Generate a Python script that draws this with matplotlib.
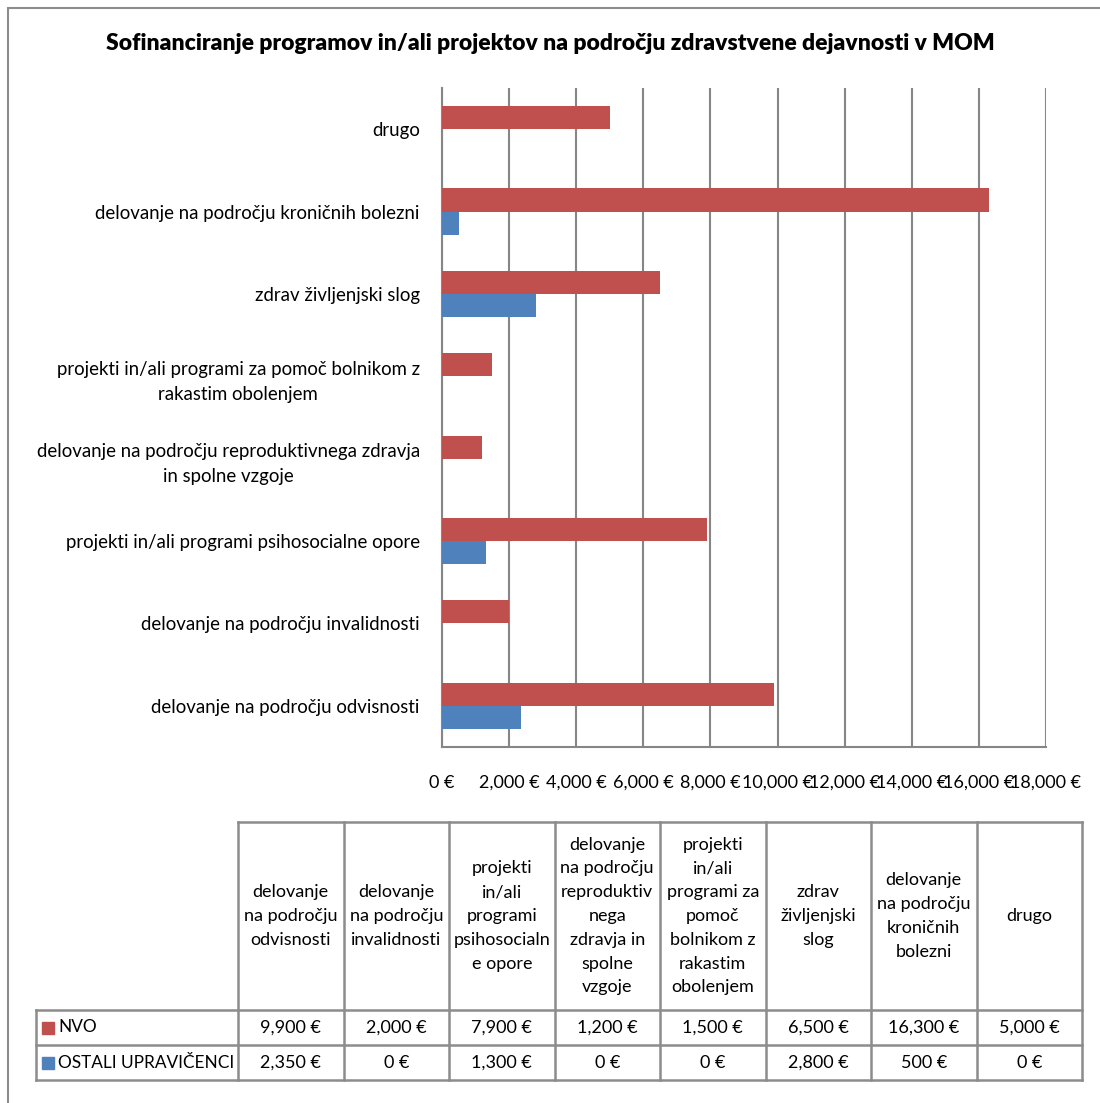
import numpy as np
import matplotlib
matplotlib.use('Agg')
from matplotlib import pyplot as plt
from matplotlib.patches import Rectangle

plt.rcParams['font.family'] = ['Lato', 'DejaVu Sans']

# data (bottom to top on the chart, left to right in the table)
categories = ['delovanje na področju odvisnosti',
              'delovanje na področju invalidnosti',
              'projekti in/ali programi psihosocialne opore',
              'delovanje na področju reproduktivnega zdravja\nin spolne vzgoje',
              'projekti in/ali programi za pomoč bolnikom z\nrakastim obolenjem',
              'zdrav življenjski slog',
              'delovanje na področju kroničnih bolezni',
              'drugo']
table_headers = ['delovanje\nna področju\nodvisnosti',
                 'delovanje\nna področju\ninvalidnosti',
                 'projekti\nin/ali\nprogrami\npsihosocialn\ne opore',
                 'delovanje\nna področju\nreproduktiv\nnega\nzdravja in\nspolne\nvzgoje',
                 'projekti\nin/ali\nprogrami za\npomoč\nbolnikom z\nrakastim\nobolenjem',
                 'zdrav\nživljenjski\nslog',
                 'delovanje\nna področju\nkroničnih\nbolezni',
                 'drugo']
nvo = [9900, 2000, 7900, 1200, 1500, 6500, 16300, 5000]
ostali = [2350, 0, 1300, 0, 0, 2800, 500, 0]
series_names = ['NVO', 'OSTALI UPRAVIČENCI']
xticks = np.arange(0, 18001, 2000)

red = '#C0504D'
blue = '#4F81BD'
grid_col = '#868686'
W, H = 1100, 1103

fig = plt.figure(figsize=(11, 11.03), dpi=100)

# outer chart border
fig.patches.append(Rectangle((8 / W, -0.01), 1.1, 1 - 8 / H + 0.01, transform=fig.transFigure,
                             fill=False, edgecolor='#8c8c8c', linewidth=1.5))

fig.text(0.5, 1 - 43 / H, 'Sofinanciranje programov in/ali projektov na področju zdravstvene dejavnosti v MOM',
         ha='center', va='center', fontsize=16.5, fontweight='heavy')

ax = fig.add_axes([442 / W, 1 - 747 / H, (1046 - 442) / W, (747 - 88) / H])
y = np.arange(len(categories))
h = 0.28
ax.barh(y + h / 2, nvo, height=h, color=red, zorder=3)
ax.barh(y - h / 2, ostali, height=h, color=blue, zorder=3)
ax.set_xlim(0, 18000)
ax.set_ylim(-0.5, len(categories) - 0.5)
ax.set_xticks(xticks)
ax.set_xticklabels([f'{v:,} €' for v in xticks])
ax.set_yticks(y)
ax.set_yticklabels(categories, multialignment='center', linespacing=1.55)
ax.tick_params(axis='x', length=0, pad=20, labelsize=13)
ax.tick_params(axis='y', length=0, pad=16, labelsize=13.4)
ax.grid(axis='x', color=grid_col, linewidth=1.5, zorder=0)
for s in ['top', 'right']:
    ax.spines[s].set_visible(False)
for s in ['left', 'bottom']:
    ax.spines[s].set_color(grid_col)
    ax.spines[s].set_linewidth(1.5)

# data table drawn in pixel space
tab = fig.add_axes([0, 0, 1, 1], zorder=5)
tab.set_xlim(0, W)
tab.set_ylim(H, 0)
tab.axis('off')
tab.patch.set_alpha(0)

col_x = np.linspace(238, 1082, len(table_headers) + 1)
head_top, row1, row2, bottom = 822, 1010, 1045, 1080
lc = '#8c8c8c'
lw = 1.8
for xx in col_x:
    tab.plot([xx, xx], [head_top, bottom], color=lc, lw=lw)
tab.plot([36, 36], [row1, bottom], color=lc, lw=lw)
tab.plot([238, 1082], [head_top, head_top], color=lc, lw=lw)
for yy in [row1, row2, bottom]:
    tab.plot([36, 1082], [yy, yy], color=lc, lw=lw)

for i, txt in enumerate(table_headers):
    cx = (col_x[i] + col_x[i + 1]) / 2
    tab.text(cx, (head_top + row1) / 2, txt, ha='center', va='center', fontsize=13,
             linespacing=1.6)

for r, (vals, name, col) in enumerate(zip([nvo, ostali], series_names, [red, blue])):
    cy = [(row1 + row2) / 2, (row2 + bottom) / 2][r]
    tab.add_patch(Rectangle((42, cy - 6), 12, 12, color=col))
    tab.text(58, cy, name, ha='left', va='center', fontsize=12.4)
    for i, v in enumerate(vals):
        cx = (col_x[i] + col_x[i + 1]) / 2
        tab.text(cx, cy, f'{v:,} €', ha='center', va='center', fontsize=13)

fig.savefig('out.png', dpi=100)
